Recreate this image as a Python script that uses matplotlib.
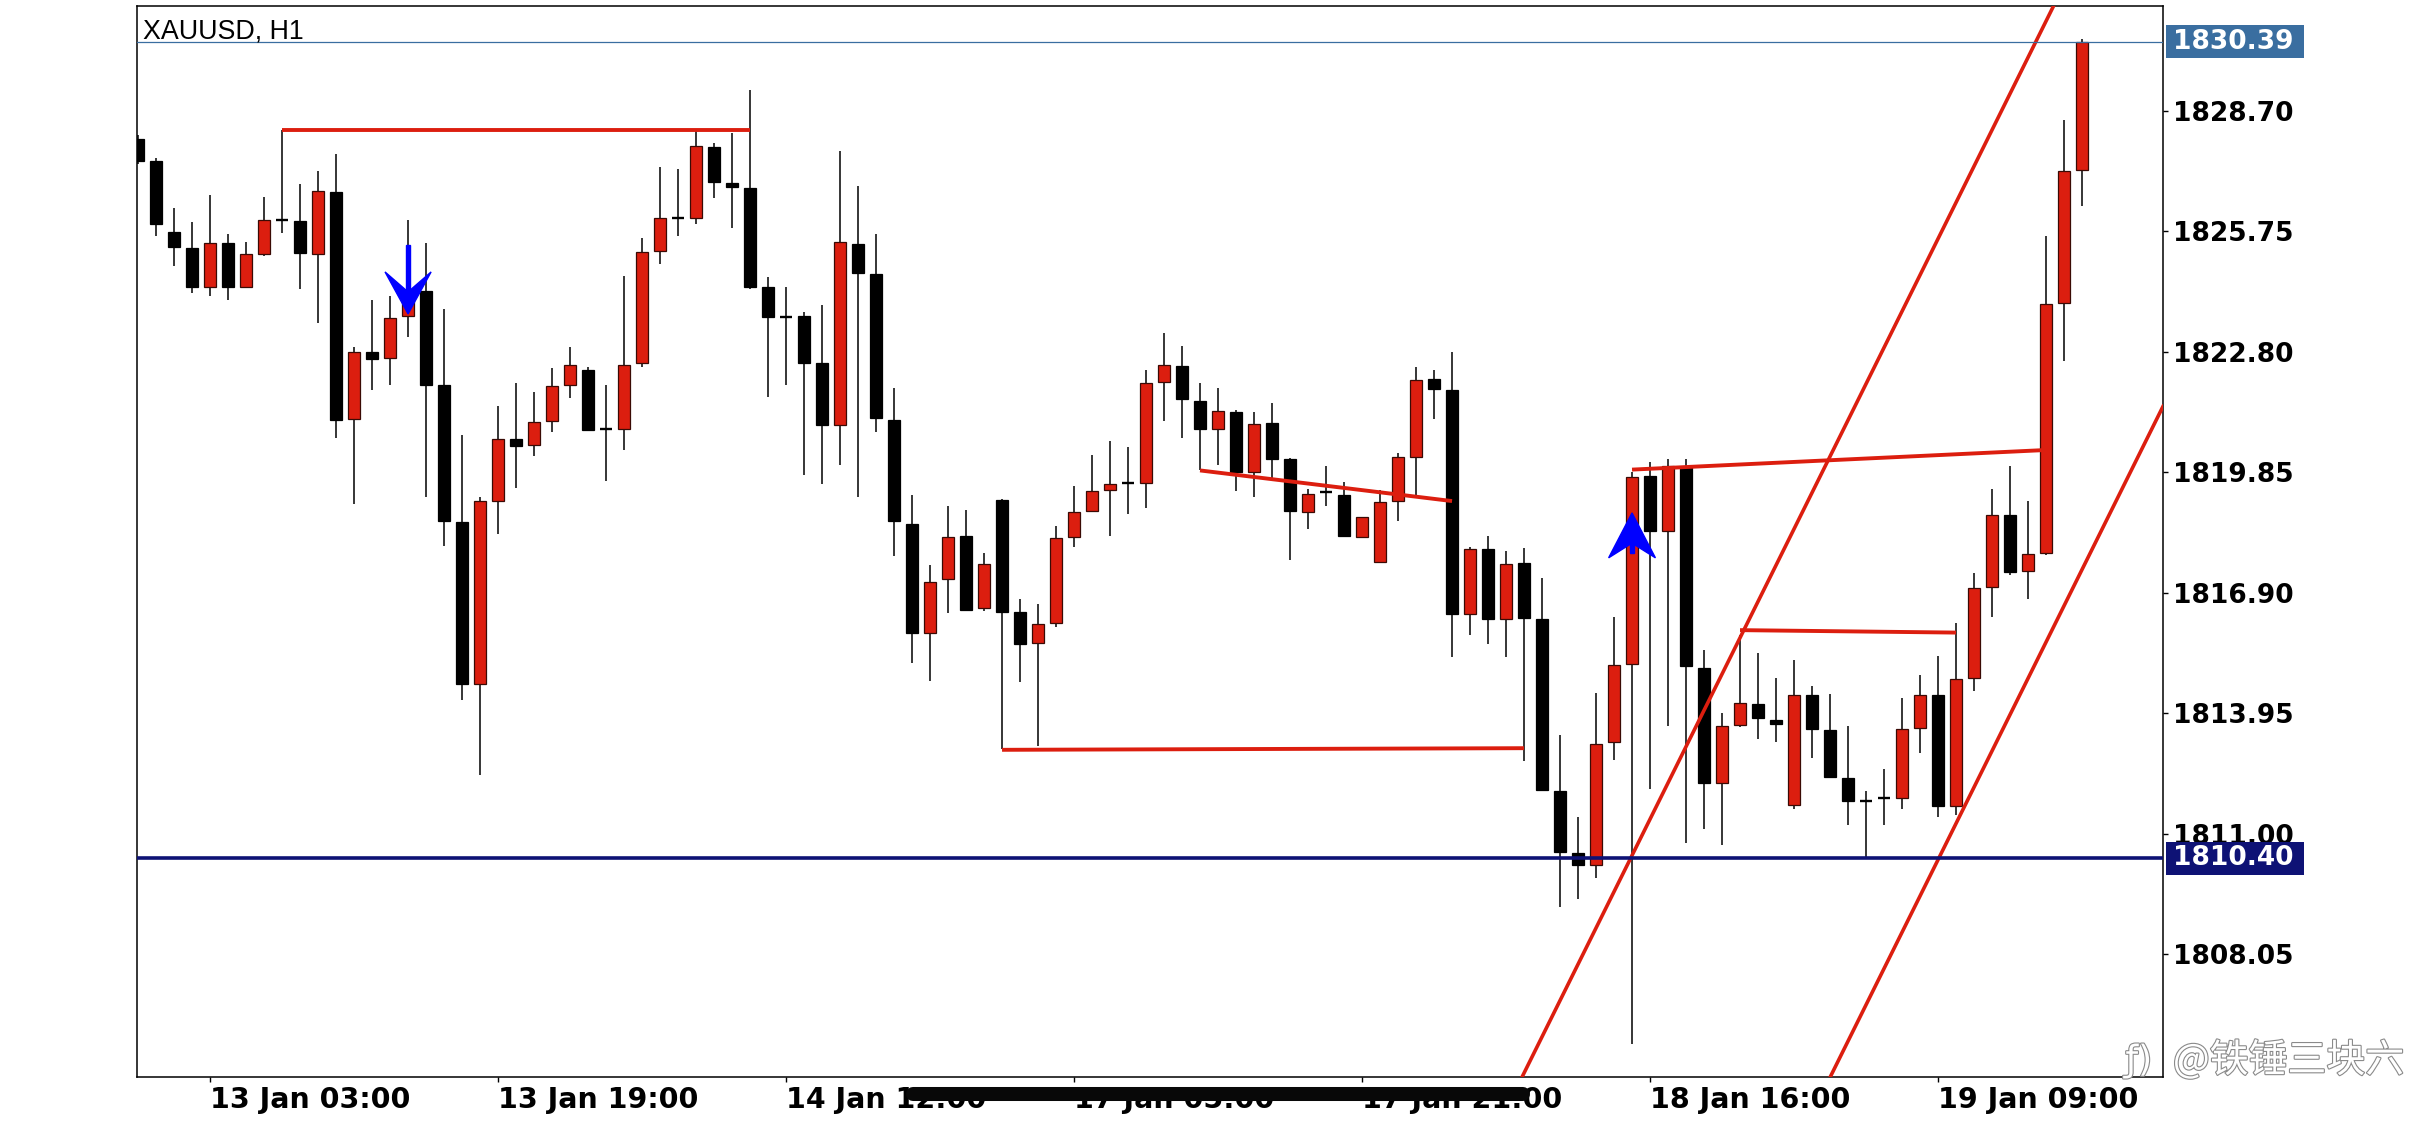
import matplotlib
matplotlib.use("Agg")
import matplotlib.pyplot as plt
import matplotlib.transforms as mtransforms
import matplotlib.patheffects as pe
from matplotlib.patches import Polygon, Rectangle
from matplotlib.lines import Line2D

# H1 bars, index 0 = 13 Jan 03:00
bar_index = list(range(-4, 105))
opens = [
    1828.01, 1827.47, 1825.73, 1825.34,
    1824.40, 1825.46, 1824.40, 1825.21, 1826.02, 1826.00, 1825.21, 1826.71, 1821.16, 1822.81,
    1822.65, 1823.69, 1824.30, 1821.99, 1818.64, 1814.67, 1819.15, 1820.66, 1820.52, 1821.11,
    1822.00, 1822.36, 1820.91, 1820.91, 1822.52, 1825.27, 1826.08, 1826.09, 1827.82, 1826.94,
    1826.82, 1824.38, 1823.66, 1823.67, 1822.52, 1821.00, 1825.44, 1824.72, 1821.13, 1818.60,
    1815.91, 1817.23, 1818.29, 1816.52, 1819.18, 1816.43, 1815.67, 1816.16, 1818.26, 1818.91,
    1819.42, 1819.58, 1819.58, 1822.06, 1822.46, 1821.60, 1820.91, 1821.33, 1819.85, 1821.06,
    1820.17, 1818.87, 1819.38, 1819.29, 1818.28, 1817.65, 1819.15, 1820.22, 1822.14, 1821.87,
    1816.39, 1817.98, 1816.26, 1817.63, 1816.26, 1812.06, 1810.53, 1810.24, 1813.26, 1815.16,
    1819.76, 1818.42, 1819.99, 1815.07, 1812.24, 1813.67, 1814.18, 1813.79, 1811.71, 1814.40,
    1813.54, 1812.38, 1811.81, 1811.89, 1811.89, 1813.59, 1814.40, 1811.68, 1814.81, 1817.04,
    1818.80, 1817.43, 1817.89, 1824.01, 1827.25,
]
highs = [
    1828.10, 1827.55, 1826.32, 1825.98,
    1826.64, 1825.69, 1825.49, 1826.60, 1828.24, 1826.91, 1827.24, 1827.64, 1822.92, 1824.08,
    1824.18, 1826.04, 1825.47, 1823.85, 1820.77, 1819.26, 1821.48, 1822.03, 1821.81, 1822.41,
    1822.92, 1822.44, 1821.99, 1824.65, 1825.60, 1827.33, 1827.27, 1828.20, 1827.91, 1828.15,
    1829.21, 1824.63, 1824.38, 1823.79, 1823.95, 1827.73, 1826.86, 1825.70, 1821.93, 1819.31,
    1817.59, 1819.03, 1818.93, 1817.87, 1819.20, 1816.75, 1816.63, 1818.54, 1819.52, 1820.28,
    1820.62, 1820.48, 1822.36, 1823.27, 1822.94, 1822.04, 1821.92, 1821.39, 1821.33, 1821.55,
    1820.21, 1819.44, 1820.00, 1819.61, 1818.75, 1819.43, 1820.32, 1822.43, 1822.37, 1822.81,
    1818.02, 1818.29, 1817.93, 1817.99, 1817.27, 1813.42, 1811.42, 1814.44, 1816.32, 1819.85,
    1820.11, 1820.19, 1820.19, 1815.50, 1813.95, 1815.87, 1815.42, 1814.81, 1815.26, 1814.62,
    1814.42, 1813.64, 1812.06, 1812.58, 1814.34, 1814.89, 1815.36, 1816.16, 1817.40, 1819.45,
    1820.02, 1819.14, 1825.63, 1828.49, 1830.45,
]
lows = [
    1827.40, 1825.63, 1824.90, 1824.25,
    1824.18, 1824.08, 1824.38, 1825.14, 1825.71, 1824.35, 1823.50, 1820.70, 1819.08, 1821.86,
    1821.99, 1823.17, 1819.26, 1818.04, 1814.29, 1812.44, 1818.35, 1819.48, 1820.26, 1820.83,
    1821.67, 1820.86, 1819.65, 1820.39, 1822.44, 1824.96, 1825.63, 1825.93, 1826.56, 1825.83,
    1824.35, 1821.69, 1822.00, 1819.79, 1819.57, 1820.04, 1819.26, 1820.85, 1817.81, 1815.19,
    1814.75, 1816.42, 1816.48, 1816.47, 1813.07, 1814.73, 1813.15, 1816.07, 1818.02, 1818.91,
    1818.30, 1818.83, 1818.97, 1821.12, 1820.69, 1819.90, 1820.03, 1819.40, 1819.26, 1819.72,
    1817.71, 1818.47, 1819.04, 1818.30, 1818.26, 1817.65, 1818.67, 1819.31, 1821.15, 1815.34,
    1815.88, 1815.66, 1815.34, 1812.79, 1812.08, 1809.21, 1809.42, 1809.91, 1812.81, 1805.86,
    1812.09, 1813.65, 1810.77, 1811.12, 1810.73, 1813.63, 1813.32, 1813.26, 1811.60, 1812.85,
    1812.40, 1811.22, 1810.40, 1811.22, 1811.60, 1812.97, 1811.41, 1811.46, 1814.51, 1816.30,
    1817.33, 1816.75, 1817.84, 1822.57, 1826.37,
]
closes = [
    1827.48, 1825.94, 1825.38, 1824.40,
    1825.46, 1824.38, 1825.21, 1826.02, 1826.04, 1825.23, 1826.73, 1821.14, 1822.79, 1822.62,
    1823.64, 1824.07, 1822.00, 1818.67, 1814.67, 1819.15, 1820.66, 1820.50, 1821.09, 1821.96,
    1822.47, 1820.90, 1820.92, 1822.47, 1825.24, 1826.09, 1826.10, 1827.84, 1826.97, 1826.83,
    1824.40, 1823.65, 1823.64, 1822.54, 1821.02, 1825.49, 1824.74, 1821.19, 1818.65, 1815.93,
    1817.18, 1818.26, 1816.48, 1817.60, 1816.44, 1815.64, 1816.13, 1818.24, 1818.87, 1819.40,
    1819.56, 1819.58, 1822.03, 1822.47, 1821.64, 1820.92, 1821.35, 1819.85, 1821.03, 1820.19,
    1818.90, 1819.33, 1819.36, 1818.30, 1818.75, 1819.12, 1820.22, 1822.11, 1821.89, 1816.39,
    1817.97, 1816.27, 1817.61, 1816.28, 1812.08, 1810.55, 1810.24, 1813.20, 1815.13, 1819.75,
    1818.42, 1820.01, 1815.11, 1812.24, 1813.64, 1814.20, 1813.83, 1813.69, 1814.40, 1813.56,
    1812.40, 1811.81, 1811.87, 1811.90, 1813.57, 1814.40, 1811.68, 1814.79, 1817.02, 1818.80,
    1817.41, 1817.85, 1823.98, 1827.23, 1830.39,
]

tick_bars = [0, 16, 32, 48, 64, 80, 96]
tick_labels = ["13 Jan 03:00", "13 Jan 19:00", "14 Jan 12:00", "17 Jan 05:00",
               "17 Jan 21:00", "18 Jan 16:00", "19 Jan 09:00"]
price_ticks = [1808.05, 1811.00, 1813.95, 1816.90, 1819.85, 1822.80, 1825.75, 1828.70]
last_price = 1830.39
support_price = 1810.40

# drawn objects: (bar, price) pairs
top_line = [(4, 1828.24), (30, 1828.24)]
slope_line = [(55, 1819.90), (69, 1819.15)]
low_line = [(44, 1813.06), (73, 1813.10)]
box_line = [(85, 1815.99), (97, 1815.93)]
break_line = [(79, 1819.92), (102, 1820.40)]
channel_a = (76.67, 1808.405)
channel_b = (93.79, 1808.405)
channel_slope = 0.888
arrow_down = (11, 1823.73)
arrow_up = (79, 1818.86)

RED = "#DC1E0F"
NAVY = "#0E1275"
STEEL = "#3A6EA0"

fig = plt.figure(figsize=(24.36, 11.25), dpi=100)
ax = fig.add_axes([137 / 2436, 48 / 1125, 2026 / 2436, 1071 / 1125])
ax.set_xlim(-4.06, 108.5)
ax.set_ylim(1805.05, 1831.27)

# candles
w = 0.7
for i, o, h, l, c in zip(bar_index, opens, highs, lows, closes):
    ax.vlines(i, l, h, color="black", linewidth=1.1, zorder=2)
    if abs(c - o) < 0.06:
        ax.hlines(o, i - w / 2, i + w / 2, color="black", linewidth=1.7, zorder=2.5)
    elif c > o:
        ax.bar(i, c - o, bottom=o, width=w, color=RED, edgecolor="#3a0a05",
               linewidth=0.9, zorder=2.5)
    else:
        ax.bar(i, o - c, bottom=c, width=w, color="black", edgecolor="black",
               linewidth=0.9, zorder=2.5)

# objects
for seg in [top_line, slope_line, low_line, box_line, break_line]:
    ax.plot([p[0] for p in seg], [p[1] for p in seg], color=RED, linewidth=2.8,
            solid_capstyle="butt", zorder=3)
ax.axline(channel_a, slope=channel_slope, color=RED, linewidth=2.6, zorder=3)
ax.axline(channel_b, slope=channel_slope, color=RED, linewidth=2.6, zorder=3)
ax.axhline(support_price, color=NAVY, linewidth=2.6, zorder=3)
ax.axhline(last_price, color=STEEL, linewidth=0.9, zorder=3)

# arrows
x, y = arrow_down
ax.add_patch(Polygon([(x - 1.28, y + 1.03), (x, y), (x + 1.28, y + 1.03), (x, y + 0.54)],
                     closed=True, color="#0000FF", zorder=4))
ax.add_patch(Rectangle((x - 0.1, y + 0.5), 0.2, 1.2, color="#0000FF", zorder=4))
x, y = arrow_up
ax.add_patch(Polygon([(x - 1.3, y - 1.1), (x, y), (x + 1.3, y - 1.1), (x, y - 0.74)],
                     closed=True, color="#0000FF", zorder=4))
ax.add_patch(Rectangle((x - 0.12, y - 0.97), 0.24, 0.3, color="#0000FF", zorder=4))

# axes styling
for s in ax.spines.values():
    s.set_linewidth(1.1)
ax.yaxis.tick_right()
ax.set_yticks(price_ticks)
ax.set_yticklabels([f"{v:.2f}" for v in price_ticks])
ax.set_xticks(tick_bars)
ax.set_xticklabels(tick_labels, ha="left")
ax.tick_params(axis="y", length=3.6, width=1, pad=3.6, labelsize=19)
ax.tick_params(axis="x", length=3.6, width=1, pad=3, labelsize=20.5)
for lbl in ax.get_yticklabels() + ax.get_xticklabels():
    lbl.set_fontfamily("DejaVu Sans")
    lbl.set_fontweight("bold")

ax.text(0.003, 0.9701, "XAUUSD, H1", transform=ax.transAxes, fontsize=19.3,
        family="Liberation Sans", va="baseline", ha="left", zorder=6)

# price boxes on the scale
trans = mtransforms.blended_transform_factory(ax.transAxes, ax.transData)
for price, col in [(last_price, STEEL), (support_price, NAVY)]:
    ax.add_patch(Rectangle((1.0015, price - 0.404), 0.0681, 0.808, transform=trans,
                           facecolor=col, edgecolor="none", clip_on=False, zorder=6))
    ax.text(1.0049, price, f"{price:.2f}", transform=trans, color="white",
            fontsize=19, fontweight="bold", family="DejaVu Sans",
            ha="left", va="center", clip_on=False, zorder=7)

# covering bar under the time scale
fig.add_artist(Line2D([913 / 2436, 1523 / 2436], [0.02756, 0.02756],
                      transform=fig.transFigure, color="#080808", linewidth=10.1,
                      solid_capstyle="round", zorder=10))

# watermark
fx = [pe.withStroke(linewidth=1.6, foreground="#8a8a8a")]
fig.text(0.892, 0.0569, "@铁锤三块六", fontsize=28, color="white",
         family=["Noto Sans CJK SC", "DejaVu Sans"], va="center", ha="left",
         path_effects=fx, zorder=11)
fig.text(0.8725, 0.0569, "ƒ)", fontsize=26, color="white", family="DejaVu Sans",
         va="center", ha="left", path_effects=fx, zorder=11)

fig.savefig("out.png", dpi=100, facecolor="white")
